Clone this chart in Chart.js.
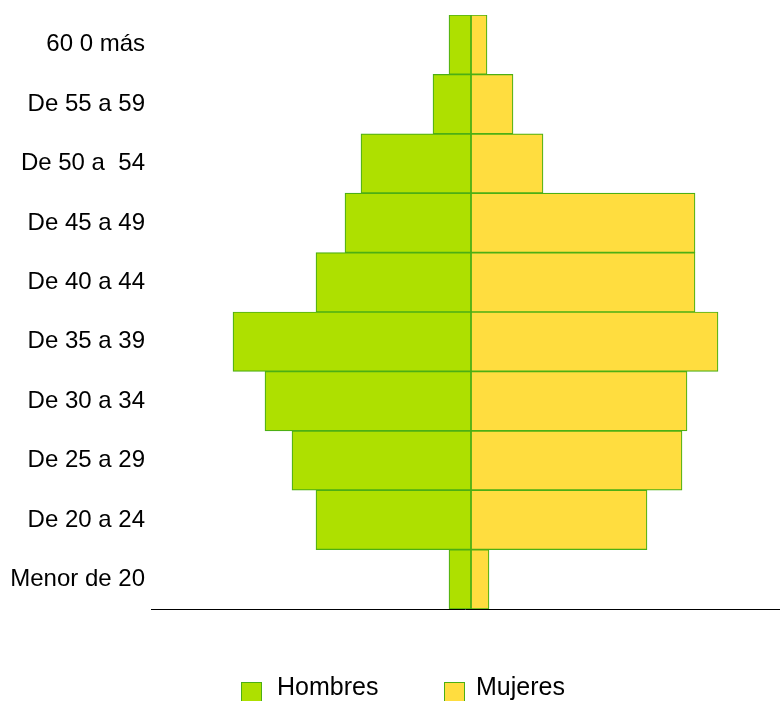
<!DOCTYPE html>
<html>
<head>
<meta charset="utf-8">
<script src="https://cdn.jsdelivr.net/npm/chart.js@4/dist/chart.umd.min.js"></script>
<style>
  html, body { margin: 0; padding: 0; background: #fff; }
  #cadre { position: relative; width: 780px; height: 701px; overflow: hidden; }
  #cadre canvas { position: absolute; left: 0; top: 0; }
  #legende { position: absolute; top: 672px; left: 0; width: 780px; font: 25px "Liberation Sans", Arial, sans-serif; color: #000; }
  .item { position: absolute; top: 0; white-space: nowrap; }
  .carre { position: absolute; top: 10px; width: 19px; height: 19px; border: 1px solid #4caf14; }
</style>
</head>
<body>
<div id="cadre">
  <canvas id="piramide" width="780" height="701"></canvas>
  <div id="legende">
    <div class="carre" style="left:241px; background:#aee000;"></div>
    <span class="item" style="left:277px;">Hombres</span>
    <div class="carre" style="left:444px; background:#ffdd3f;"></div>
    <span class="item" style="left:476px;">Mujeres</span>
  </div>
</div>
<script>
// tranches d'âge, du haut vers le bas
const tranches = ['60 0 más', 'De 55 a 59', 'De 50 a  54', 'De 45 a 49', 'De 40 a 44',
  'De 35 a 39', 'De 30 a 34', 'De 25 a 29', 'De 20 a 24', 'Menor de 20'];
const hombres = [22, 38, 110, 126, 155, 238, 206, 179, 155, 22];
const mujeres = [16, 42, 72, 224, 224, 247, 216, 211, 176, 18];
const bornesX = [-320, 308];

const ctx = document.getElementById('piramide').getContext('2d');

new Chart(ctx, {
  type: 'bar',
  data: {
    labels: tranches,
    datasets: [
      {
        label: 'Hombres',
        data: hombres.map((v) => -v),
        backgroundColor: '#aee000',
        borderColor: '#4caf14',
        borderWidth: 1.2,
        borderSkipped: false,
        categoryPercentage: 1,
        barPercentage: 1,
      },
      {
        label: 'Mujeres',
        data: mujeres,
        backgroundColor: '#ffdd3f',
        borderColor: '#4caf14',
        borderWidth: 1.2,
        borderSkipped: false,
        categoryPercentage: 1,
        barPercentage: 1,
      },
    ],
  },
  options: {
    indexAxis: 'y',
    responsive: false,
    animation: false,
    layout: { padding: { top: 15, bottom: 92, right: 1, left: 0 } },
    plugins: { legend: { display: false }, tooltip: { enabled: false } },
    scales: {
      x: {
        stacked: true,
        min: bornesX[0],
        max: bornesX[1],
        grid: { display: false, drawTicks: false },
        border: { display: true, color: '#000', width: 1 },
        ticks: { display: false },
        afterFit: (s) => { s.height = 0; },
      },
      y: {
        stacked: true,
        grid: { display: false, drawTicks: false },
        border: { display: false },
        ticks: {
          color: '#000',
          padding: 6,
          font: { family: '"Liberation Sans", Arial, sans-serif', size: 24 },
        },
        afterFit: (s) => { s.width = 151; s.paddingTop = 0; s.paddingBottom = 0; },
      },
    },
  },
});
</script>
</body>
</html>
